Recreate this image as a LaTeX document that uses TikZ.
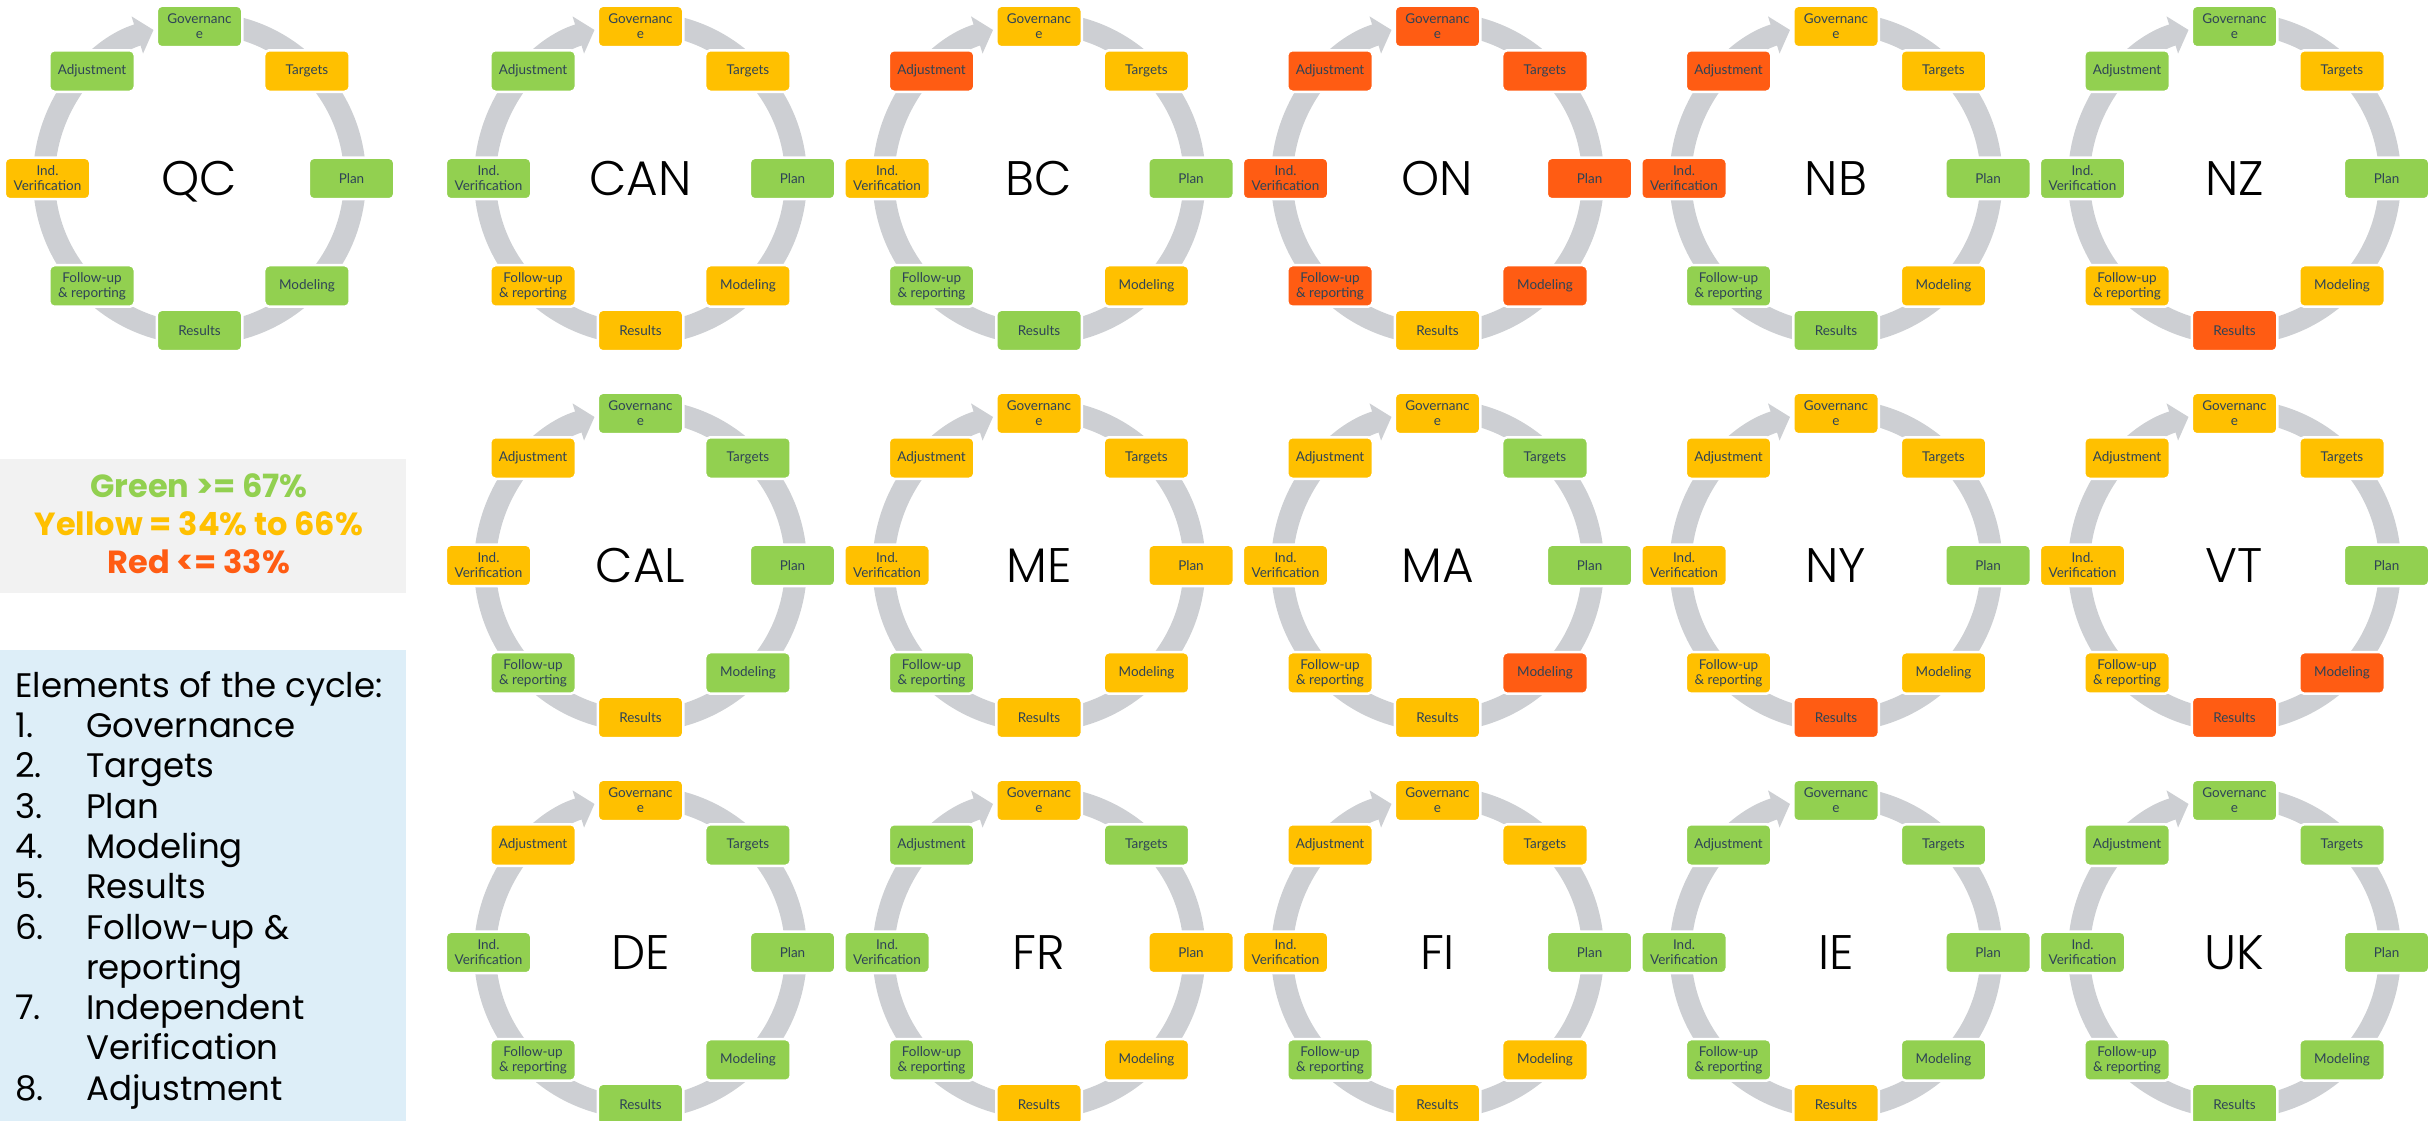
\documentclass[tikz,border=0pt]{standalone}
\usepackage{fontspec}
\setmainfont{Poppins}
\newfontfamily\stagefont{Lato}
\newfontfamily\thinfont{Poppins Light}
\usetikzlibrary{arrows.meta}

\definecolor{cG}{HTML}{92D050}
\definecolor{cY}{HTML}{FFC000}
\definecolor{cR}{HTML}{FF5C13}
\definecolor{ringgray}{HTML}{CDCFD3}
\definecolor{stagetext}{HTML}{2E4356}
\definecolor{legendgray}{HTML}{F2F2F2}
\definecolor{listblue}{HTML}{DDEEF8}

\tikzset{
  ring/.style={draw=ringgray, line width=22pt, -{Triangle[width=38pt,length=17pt]}},
  stage/.style={draw=white, line width=2.5pt, rounded corners=5pt, minimum width=85.5pt,
    minimum height=41.5pt, inner sep=0pt, align=center, text=stagetext,
    font=\stagefont\fontsize{13.5}{15}\selectfont},
  country/.style={anchor=base, inner sep=0pt, font=\thinfont\fontsize{48.5}{50}\selectfont},
  legendline/.style={anchor=base, inner sep=0pt, font=\bfseries\fontsize{32}{36}\selectfont},
  listline/.style={anchor=base west, inner sep=0pt, font=\fontsize{34}{40}\selectfont}
}

\newcommand{\stagename}[1]{\ifcase#1\or Governanc\\e\or Targets\or Plan\or Modeling\or
  Results\or Follow-up\\\& reporting\or Ind.\\Verification\or Adjustment\fi}

% #1 name, #2/#3 centre, #4 colours from Governance clockwise
\newcommand{\drawcycle}[4]{%
  \begin{scope}[shift={(#2,#3)}]
    \draw[ring] (80:155.5pt) arc[start angle=80, end angle=-252.8, radius=155.5pt];
    \node[country] (#1) at (0,-17) {#1};
    \foreach \col [count=\i] in {#4}
      \node[stage, fill=c\col] (#1-\i) at ({135-45*\i}:152pt) {\stagename{\i}};
  \end{scope}}

\begin{document}
\begin{tikzpicture}[x=1pt, y=1pt]
  \useasboundingbox (0,0) rectangle (2436,1121);

  \fill[legendgray] (0,527.7) rectangle (406,662.4);
  \node[legendline, text=cG] (green) at (199,623.1) {Green >= 67\%};
  \node[legendline, text=cY] (yellow) at (199,585.4) {Yellow = 34\% to 66\%};
  \node[legendline, text=cR] (red) at (199,547) {Red <= 33\%};

  \fill[listblue] (0,0) rectangle (406,471.2);
  \node[listline] (title) at (15,423.7) {Elements of the cycle:};
  \foreach \num/\txt [count=\k] in {1./Governance, 2./Targets, 3./Plan, 4./Modeling,
      5./Results, 6./Follow-up \&, /reporting, 7./Independent, /Verification, 8./Adjustment} {
    \node[listline] (num-\k) at (15,423.7-40.3*\k) {\num};
    \node[listline] (item-\k) at (86,423.7-40.3*\k) {\txt};
  }

  \drawcycle{QC}{199.5}{942.5}{G,Y,G,G,G,G,Y,G}
  \drawcycle{CAN}{640.5}{942.5}{Y,Y,G,Y,Y,Y,G,G}
  \drawcycle{BC}{1039}{942.5}{Y,Y,G,Y,G,G,Y,R}
  \drawcycle{ON}{1437.5}{942.5}{R,R,R,R,Y,R,R,R}
  \drawcycle{NB}{1836}{942.5}{Y,Y,G,Y,G,G,R,R}
  \drawcycle{NZ}{2234.5}{942.5}{G,Y,G,Y,R,Y,G,G}

  \drawcycle{CAL}{640.5}{555.5}{G,G,G,G,Y,G,Y,Y}
  \drawcycle{ME}{1039}{555.5}{Y,Y,Y,Y,Y,G,Y,Y}
  \drawcycle{MA}{1437.5}{555.5}{Y,G,G,R,Y,Y,Y,Y}
  \drawcycle{NY}{1836}{555.5}{Y,Y,G,Y,R,Y,Y,Y}
  \drawcycle{VT}{2234.5}{555.5}{Y,Y,G,R,R,Y,Y,Y}

  \drawcycle{DE}{640.5}{168.5}{Y,G,G,G,G,G,G,Y}
  \drawcycle{FR}{1039}{168.5}{Y,G,Y,Y,Y,G,G,G}
  \drawcycle{FI}{1437.5}{168.5}{Y,Y,G,Y,Y,G,Y,Y}
  \drawcycle{IE}{1836}{168.5}{G,G,G,G,Y,G,G,G}
  \drawcycle{UK}{2234.5}{168.5}{G,G,G,G,G,G,G,G}
\end{tikzpicture}
\end{document}
